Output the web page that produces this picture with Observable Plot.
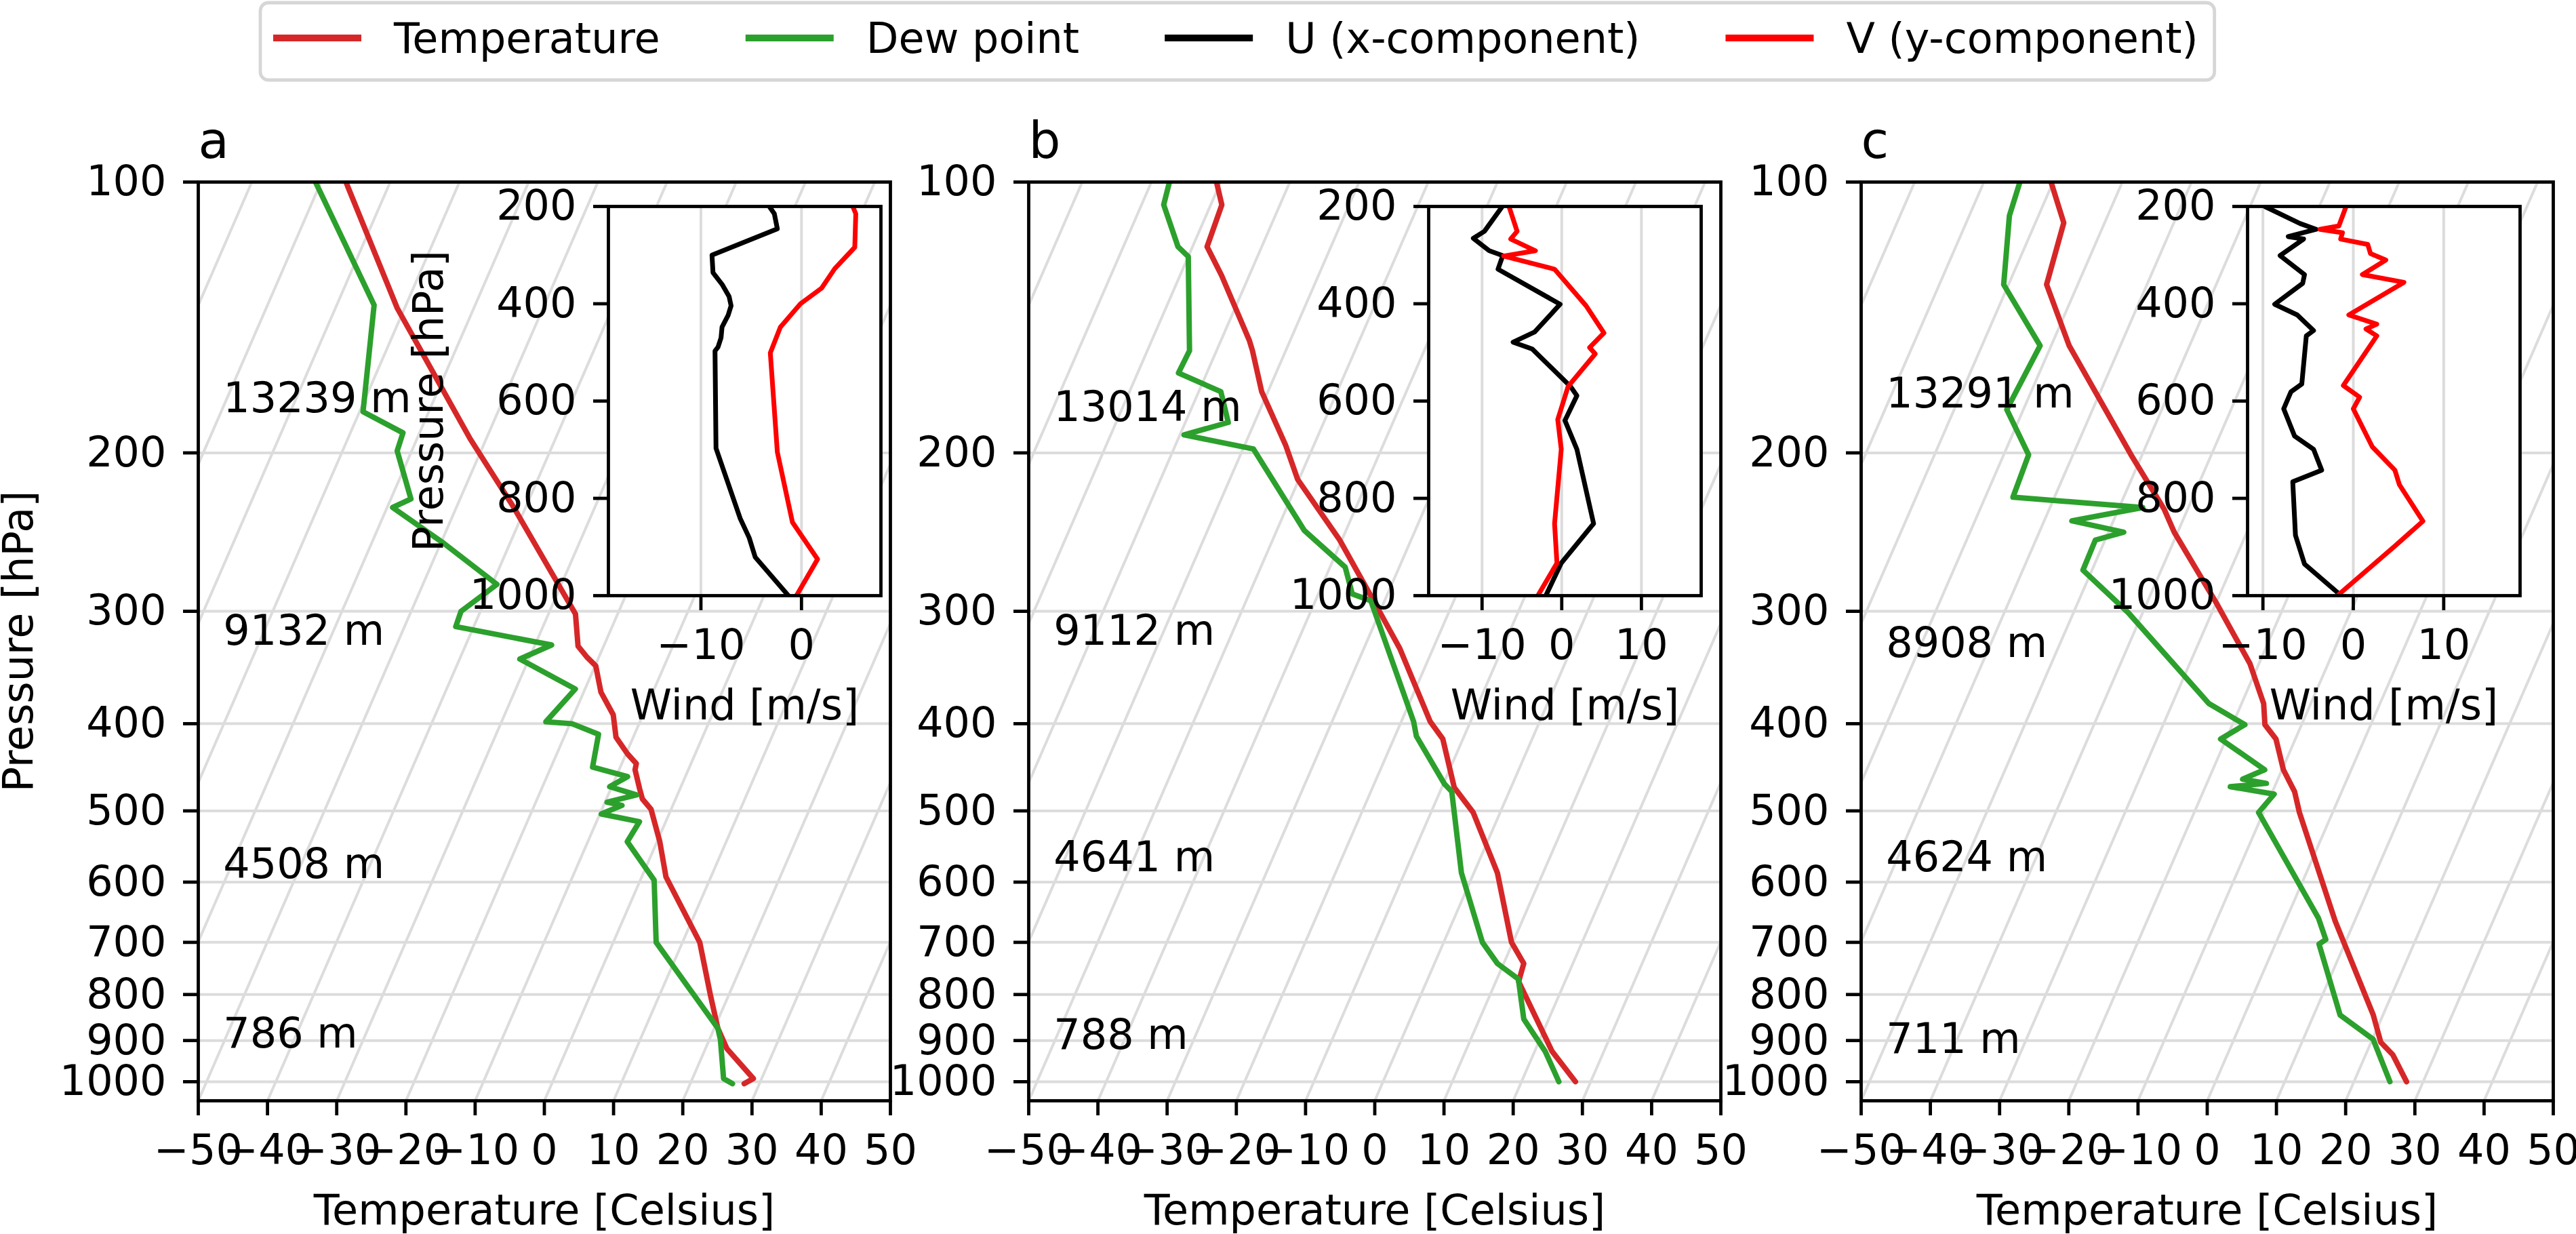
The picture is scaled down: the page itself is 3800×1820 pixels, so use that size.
<!DOCTYPE html>
<html>
<head>
<meta charset="utf-8">
<script src="https://cdn.jsdelivr.net/npm/d3@7"></script>
<script src="https://cdn.jsdelivr.net/npm/@observablehq/plot@0.6"></script>
<style>
html, body { margin: 0; padding: 0; background: #ffffff; }
#root { position: relative; width: 3800px; height: 1820px; background: #ffffff; overflow: hidden; font-family: "DejaVu Sans"; }
#root > svg { position: absolute; max-width: none; }
</style>
</head>
<body>
<div id="root"></div>
<script>
// ---------------- data ----------------
const pressureTicks = [100, 200, 300, 400, 500, 600, 700, 800, 900, 1000];
const tempTicks = [-50, -40, -30, -20, -10, 0, 10, 20, 30, 40, 50];
const isotherms = [-100, -90, -80, -70, -60, -50, -40, -30, -20, -10, 0, 10, 20, 30, 40, 50];
const windPressureTicks = [200, 400, 600, 800, 1000];
const windTicks = [-10, 0, 10];
const panelLabels = ["a", "b", "c"];

// Panel a
const tempA_p = [1005, 992, 919, 872, 800, 700, 592, 541, 498, 485, 473, 450, 443, 432, 414, 391, 369, 345, 337, 328, 302, 230, 193, 138, 100];
const tempA_T = [27.8, 28.8, 23.1, 20.5, 17.3, 12.5, 3.5, 0.4, -2.9, -4.8, -5.8, -7.7, -7.9, -9.8, -12.5, -14.3, -17.5, -19.9, -21.8, -23.7, -26.1, -41.7, -52.3, -71.1, -86.4];
const dewA_p = [1005, 992, 898, 872, 700, 597, 541, 514, 504, 493, 489, 480, 470, 458, 447, 411, 400, 398, 366, 339, 327, 312, 300, 280, 252, 230, 225, 199, 190, 180, 137, 100];
const dewA_T = [26.1, 24.5, 21.6, 20.5, 6.2, 2.0, -4.3, -3.8, -9.8, -7.35, -9.7, -5.9, -10.3, -8.35, -14.0, -15.2, -19.7, -23.6, -21.4, -31.3, -27.6, -42.6, -42.8, -39.3, -49.6, -59.2, -57.1, -62.1, -62.4, -69.5, -74.6, -90.8];

// Panel b
const tempB_p = [1000, 925, 774, 739, 700, 586, 502, 471, 416, 398, 330, 292, 250, 214, 196, 171, 154, 150, 127, 118, 106, 100];
const tempB_T = [27.8, 22.5, 13.3, 12.9, 9.8, 3.4, -3.9, -8.2, -12.9, -15.8, -24.8, -31.6, -40.3, -50.2, -54.1, -60.9, -64.8, -65.9, -74.0, -77.9, -78.4, -80.6];
const dewB_p = [1000, 925, 852, 769, 739, 700, 586, 476, 467, 413, 398, 292, 287, 268, 244, 198, 191, 185, 171, 163, 154, 121, 118, 106, 100];
const dewB_T = [25.4, 21.5, 16.4, 13.1, 9.1, 5.6, -1.8, -8.3, -9.8, -16.9, -18.2, -32.0, -35.1, -37.8, -46.0, -58.5, -69.4, -63.8, -66.8, -74.1, -73.9, -80.0, -82.1, -86.8, -87.4];

// Panel c
const tempC_p = [1000, 933, 904, 843, 663, 502, 476, 450, 416, 401, 380, 343, 294, 245, 231, 201, 152, 130, 111, 100];
const tempC_T = [27.6, 23.9, 21.4, 18.6, 7.2, -4.8, -6.8, -9.8, -12.8, -15.3, -16.8, -21.3, -29.9, -40.5, -43.4, -51.6, -67.4, -74.5, -75.9, -80.3];
const dewC_p = [1000, 897, 843, 703, 695, 658, 502, 479, 470, 466, 461, 450, 416, 401, 380, 301, 270, 250, 245, 238, 230, 224, 201, 179, 152, 130, 109, 100];
const dewC_T = [25.2, 20.1, 13.8, 6.3, 7.0, 4.6, -10.7, -9.6, -16.4, -11.4, -15.1, -12.5, -20.8, -18.2, -24.7, -42.1, -51.3, -51.4, -47.8, -56.0, -46.6, -66.0, -66.4, -72.4, -71.6, -80.7, -84.2, -84.8];

// Height annotations
const heightA = ["13239 m", "9132 m", "4508 m", "786 m"];
const heightA_p = [174, 316, 574, 885];
const heightB = ["13014 m", "9112 m", "4641 m", "788 m"];
const heightB_p = [178, 316, 564, 889];
const heightC = ["13291 m", "8908 m", "4624 m", "711 m"];
const heightC_p = [172, 326, 564, 898];

// Wind insets
const uA_p = [200, 215, 246, 300, 336, 360, 385, 404, 424, 448, 470, 489, 497, 697, 841, 881, 921, 1000];
const uA = [-3.2, -2.7, -2.4, -8.9, -8.8, -7.9, -7.2, -7.0, -7.3, -7.9, -8.0, -8.3, -8.6, -8.5, -6.1, -5.2, -4.6, -1.3];
const vA_p = [200, 215, 284, 328, 368, 400, 448, 501, 705, 849, 925, 1000];
const vA = [5.1, 5.4, 5.3, 3.3, 2.0, -0.1, -2.1, -3.1, -2.4, -0.9, 1.6, -0.5];

const uB_p = [201, 251, 265.5, 291, 301, 329, 401, 458, 479, 493, 570, 589, 640, 699, 852, 933, 1000];
const uB = [-7.5, -9.7, -11.1, -9.1, -7.4, -8.0, -0.2, -3.4, -6.1, -3.7, 1.1, 1.9, 0.4, 1.9, 4.0, -0.06, -2.0];
const vB_p = [201, 251, 267, 291, 302, 329, 404, 460, 490, 503, 570, 638, 699, 852, 933, 1000];
const vB = [-6.6, -5.6, -6.4, -3.3, -7.3, -0.9, 3.05, 5.3, 3.5, 4.2, 0.8, -0.5, -0.06, -0.9, -0.6, -3.0];

const uC_p = [200, 235, 247, 262, 267, 301, 340, 358, 401, 423, 455, 466, 565, 581, 616, 672, 699, 742, 766, 876, 935, 999];
const uC = [-9.8, -5.9, -4.1, -7.2, -5.5, -8.1, -5.4, -5.6, -8.7, -6.2, -4.4, -5.2, -5.7, -6.9, -7.7, -6.5, -4.4, -3.5, -6.7, -6.4, -5.4, -1.4];
const vC_p = [200, 240, 247, 254, 267, 278, 297, 310, 340, 356, 423, 442, 452, 466, 568, 592, 616, 694, 742, 772, 847, 898, 999];
const vC = [-0.8, -1.6, -3.7, -1.2, -1.4, 1.6, 1.9, 3.6, 1.0, 5.6, -0.5, 2.6, 1.4, 2.6, -1.1, 0.7, 0.0, 2.1, 4.6, 5.1, 7.7, 4.6, -1.7];

const windDomainA = [-19.2, 7.9];
const windDomainB = [-16.7, 17.5];
const windDomainC = [-11.7, 18.45];

const legendLabels = ["Temperature", "Dew point", "U (x-component)", "V (y-component)"];
const legendColors = ["#d62728", "#2ca02c", "#000000", "#ff0000"];

// ---------------- layout / style ----------------
const FONT = "DejaVu Sans";
const FS = 62;
const GRID = "#dcdcdc";
const P_BOTTOM = 1050, P_TOP = 100, SKEW_DEG = 30;
const X_MIN = -50, X_MAX = 50;
const skew = p => Math.tan(SKEW_DEG * Math.PI / 180) * (X_MAX - X_MIN) * Math.log(P_BOTTOM / p) / Math.log(P_BOTTOM / P_TOP);
const minusFmt = d => (d < 0 ? "\u2212" + Math.abs(d) : String(d));

const FRAME_TOP = 268, FRAME_BOTTOM = 1623, FRAME_W = 1021;
const panelLeft = [292, 1517, 2745];
const insetLeft = [897, 2107, 3315];
const INSET_TOP = 304, INSET_BOTTOM = 878, INSET_W = 402;
const TICK = 22, XPAD = 27, YPAD = 25, LABEL_DY = 182, YLABEL_DX = -264;

const zip = (ps, vs) => ps.map((p, i) => ({p, v: vs[i]}));

const panels = [
  {temp: zip(tempA_p, tempA_T), dew: zip(dewA_p, dewA_T), hl: heightA, hp: heightA_p,
   u: zip(uA_p, uA), v: zip(vA_p, vA), wd: windDomainA},
  {temp: zip(tempB_p, tempB_T), dew: zip(dewB_p, dewB_T), hl: heightB, hp: heightB_p,
   u: zip(uB_p, uB), v: zip(vB_p, vB), wd: windDomainB},
  {temp: zip(tempC_p, tempC_T), dew: zip(dewC_p, dewC_T), hl: heightC, hp: heightC_p,
   u: zip(uC_p, uC), v: zip(vC_p, vC), wd: windDomainC}
];

const root = document.getElementById("root");
const ML = 292, MR = 30;

panels.forEach((pd, i) => {
  const marks = [
    Plot.ruleY(pressureTicks, {y: d => d, stroke: GRID, strokeWidth: 4}),
    Plot.link(isotherms, {
      x1: t => t + skew(P_BOTTOM), y1: () => P_BOTTOM,
      x2: t => t + skew(P_TOP), y2: () => P_TOP,
      stroke: GRID, strokeWidth: 4, clip: true
    }),
    Plot.line(pd.temp, {x: d => d.v + skew(d.p), y: "p", stroke: "#d62728", strokeWidth: 8, clip: true}),
    Plot.line(pd.dew, {x: d => d.v + skew(d.p), y: "p", stroke: "#2ca02c", strokeWidth: 8, clip: true}),
    Plot.text(pd.hl, {x: () => -46.4, y: (d, j) => pd.hp[j], text: d => d, textAnchor: "start", fontSize: FS, fill: "black"}),
    Plot.frame({stroke: "black", strokeWidth: 4.8}),
    Plot.axisX({ticks: tempTicks, tickSize: TICK, tickPadding: XPAD, strokeWidth: 4.8, tickFormat: minusFmt, label: null, fontSize: FS}),
    Plot.axisY({ticks: pressureTicks, tickSize: TICK, tickPadding: YPAD, strokeWidth: 4.8, tickFormat: d => String(d), label: null, fontSize: FS}),
    Plot.text([panelLabels[i]], {frameAnchor: "top-left", dy: -36, lineAnchor: "bottom", textAnchor: "start", fontSize: 74}),
    Plot.text(["Temperature [Celsius]"], {frameAnchor: "bottom", dy: LABEL_DY, lineAnchor: "bottom", textAnchor: "middle", fontSize: FS})
  ];
  if (i === 0) {
    marks.push(Plot.text(["Pressure [hPa]"], {frameAnchor: "left", dx: YLABEL_DX, rotate: -90, textAnchor: "middle", lineAnchor: "middle", fontSize: FS}));
  }
  const svg = Plot.plot({
    width: ML + FRAME_W + MR,
    height: 1820,
    marginLeft: ML, marginRight: MR, marginTop: FRAME_TOP, marginBottom: 1820 - FRAME_BOTTOM,
    x: {domain: [X_MIN, X_MAX]},
    y: {type: "log", domain: [P_BOTTOM, P_TOP]},
    style: {fontFamily: FONT, fontSize: FS + "px", background: "transparent", color: "black", maxWidth: "none", overflow: "visible"},
    marks
  });
  svg.style.position = "absolute";
  svg.style.left = (panelLeft[i] - ML) + "px";
  svg.style.top = "0px";
  root.appendChild(svg);
});

// insets
const IML = 280, IMR = 12, IMT = 20, IMB = 210;
panels.forEach((pd, i) => {
  const ticks = windTicks.filter(t => t >= pd.wd[0] && t <= pd.wd[1]);
  const marks = [
    Plot.frame({fill: "white", stroke: "none"}),
    Plot.ruleX(ticks, {x: d => d, stroke: GRID, strokeWidth: 4}),
    Plot.line(pd.u, {x: "v", y: "p", stroke: "black", strokeWidth: 7, clip: true}),
    Plot.line(pd.v, {x: "v", y: "p", stroke: "#ff0000", strokeWidth: 7, clip: true}),
    Plot.frame({stroke: "black", strokeWidth: 4.8}),
    Plot.axisX({ticks, tickSize: TICK, tickPadding: XPAD, strokeWidth: 4.8, tickFormat: minusFmt, label: null, fontSize: FS}),
    Plot.axisY({ticks: windPressureTicks, tickSize: TICK, tickPadding: YPAD, strokeWidth: 4.8, tickFormat: d => String(d), label: null, fontSize: FS}),
    Plot.text(["Wind [m/s]"], {frameAnchor: "bottom", dy: LABEL_DY, lineAnchor: "bottom", textAnchor: "middle", fontSize: FS})
  ];
  if (i === 0) {
    marks.push(Plot.text(["Pressure [hPa]"], {frameAnchor: "left", dx: YLABEL_DX, rotate: -90, textAnchor: "middle", lineAnchor: "middle", fontSize: FS}));
  }
  const svg = Plot.plot({
    width: IML + INSET_W + IMR,
    height: IMT + (INSET_BOTTOM - INSET_TOP) + IMB,
    marginLeft: IML, marginRight: IMR, marginTop: IMT, marginBottom: IMB,
    x: {domain: pd.wd},
    y: {domain: [1000, 200]},
    style: {fontFamily: FONT, fontSize: FS + "px", background: "transparent", color: "black", maxWidth: "none", overflow: "visible"},
    marks
  });
  svg.style.position = "absolute";
  svg.style.left = (insetLeft[i] - IML) + "px";
  svg.style.top = (INSET_TOP - IMT) + "px";
  root.appendChild(svg);
});

// legend
const lg = d3.select(root).append("svg")
  .attr("width", 3800).attr("height", 130)
  .style("position", "absolute").style("left", "0px").style("top", "0px")
  .style("font-family", FONT).style("font-size", FS + "px");
const box = lg.append("rect");
let cursor = 403;
let lastEnd = cursor;
legendLabels.forEach((lab, i) => {
  lg.append("line")
    .attr("x1", cursor + 5).attr("x2", cursor + 125)
    .attr("y1", 56).attr("y2", 56)
    .attr("stroke", legendColors[i]).attr("stroke-width", 10).attr("stroke-linecap", "square");
  const t = lg.append("text").attr("x", cursor + 178).attr("y", 78).attr("fill", "black").text(lab);
  const w = t.node().getComputedTextLength();
  lastEnd = cursor + 178 + w;
  cursor = lastEnd + 126;
});
box.attr("x", 384).attr("y", 4).attr("width", lastEnd + 24 - 384).attr("height", 114)
  .attr("rx", 12).attr("ry", 12)
  .attr("fill", "white").attr("stroke", "#d6d6d6").attr("stroke-width", 4.8);
</script>
</body>
</html>
